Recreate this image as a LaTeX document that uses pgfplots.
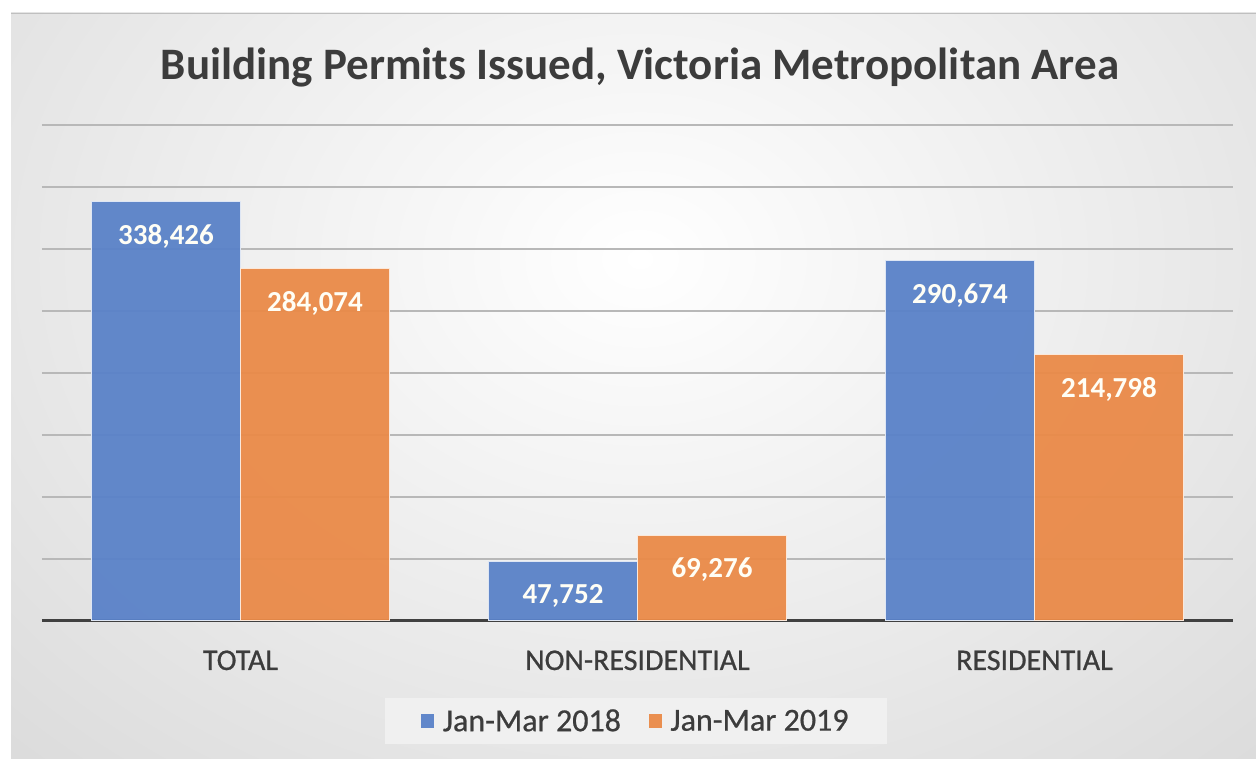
\documentclass[border=0pt]{standalone}
\usepackage{fontspec}
\setmainfont{Carlito}
\newfontfamily\semib[FakeBold=0.7]{Carlito}
\usepackage{pgfplots}
\pgfplotsset{compat=1.18}
\definecolor{bblue}{HTML}{5A82C8}
\definecolor{borange}{HTML}{EA8A48}
\definecolor{txt}{HTML}{3C3C3C}
\begin{document}
\begin{tikzpicture}
\useasboundingbox (0pt,0pt) rectangle (1256pt,759pt);
\fill[white] (0pt,0pt) rectangle (1256pt,759pt);
\begin{scope}
\clip (11pt,0pt) rectangle (1256pt,746pt);
\shade[inner color=white, outer color=black!23] (640pt,500pt) ellipse [x radius=1500pt, y radius=1150pt];
\end{scope}
\draw[black!25, line width=1.5pt] (11pt,745.5pt) -- (1256pt,745.5pt);
\node[anchor=base, font=\fontsize{45}{48}\selectfont\bfseries, text=txt] at (640pt,679pt) {Building Permits Issued, Victoria Metropolitan Area};
\begin{axis}[
  at={(42pt,138pt)}, anchor=south west, scale only axis,
  width=1191pt, height=496pt,
  xmin=-0.5, xmax=2.5, ymin=0, ymax=400000,
  ybar=0pt, bar width=149pt,
  axis line style={draw=none},
  scaled y ticks=false,
  xtick={0,1,2}, xticklabels={TOTAL,NON-RESIDENTIAL,RESIDENTIAL},
  xticklabel style={font=\semib\fontsize{30}{32}\selectfont, text=txt, yshift=-26pt},
  ytick={50000,100000,150000,200000,250000,300000,350000,400000},
  yticklabels={},
  ymajorgrids, grid style={line width=1.6pt, color=black!28},
  extra y ticks={0}, extra y tick labels={},
  extra y tick style={grid style={line width=3pt, color=black!75}},
  major tick length=0pt,
  nodes near coords, point meta=explicit symbolic,
  every node near coord/.append style={anchor=north, yshift=-19pt, text=white!96!yellow, font=\fontsize{29}{30}\selectfont\bfseries},
  legend style={at={(0.4987,-0.2016)}, anchor=center, fill=black!6, draw=none,
    legend columns=2, font=\semib\fontsize{32}{34}\selectfont, text=txt,
    inner xsep=36pt, inner ysep=9pt,
    /tikz/every even column/.append style={column sep=26pt}},
  legend image code/.code={\path[#1,draw=none] (0pt,-7pt) rectangle (13pt,7pt); \path (19pt,0pt);},
]
\addplot[fill=bblue, draw=white!80!bblue, line width=1pt, fill opacity=0.95, text opacity=1]
  coordinates {(0,338426) [338,426] (1,47752) [47,752] (2,290674) [290,674]};
\addplot[fill=borange, draw=white!80!borange, line width=1pt, fill opacity=0.95, text opacity=1]
  coordinates {(0,284074) [284,074] (1,69276) [69,276] (2,214798) [214,798]};
\legend{Jan-Mar 2018, Jan-Mar 2019}
\end{axis}
\end{tikzpicture}
\end{document}
